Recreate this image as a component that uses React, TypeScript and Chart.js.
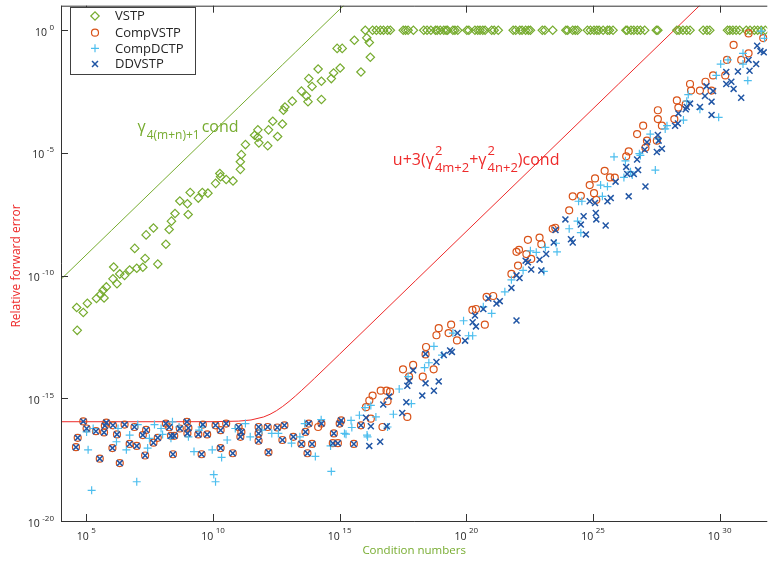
import React, { useEffect, useRef } from 'react';
import { Chart, registerables } from 'chart.js';

Chart.register(...registerables);

// ---------- data (log10 of condition number, log10 of relative forward error) ----------
const X_TICK_EXP = [5, 10, 15, 20, 25, 30];
const Y_TICK_EXP = [0, -5, -10, -15, -20];
const X_MIN_EXP = 4;
const X_MAX_EXP = 31.88;
const Y_MIN_EXP = -20;
const Y_MAX_EXP = 1;

const U = 2 ** -53; // unit roundoff
const GAMMA1_COEF_EXP = -14.15; // gamma_{4(m+n)+1}
const GAMMA2_COEF_EXP = -28.2; // 3(gamma^2_{4m+2}+gamma^2_{4n+2})
const BOUND_COND_EXP = [4, 6, 8, 10, 11, 11.5, 12, 12.25, 12.5, 12.75, 13, 13.25, 13.5, 13.75, 14, 14.5, 15, 16, 18, 22, 26, 30, 32];

const VSTP_LOG: [number, number][] = [
  [4.62, -11.3], [4.64, -12.23], [4.88, -11.5], [5.04, -11.13], [5.4, -10.93], [5.56, -10.77], [5.7, -10.91],
  [5.66, -10.6], [5.79, -10.46], [6.05, -10.13], [6.08, -9.65], [6.21, -10.33], [6.32, -9.93], [6.51, -9.99],
  [6.71, -9.77], [6.91, -8.89], [6.99, -9.7], [7.23, -9.66], [7.32, -9.3], [7.36, -8.34], [7.65, -8.06],
  [7.82, -9.53], [8.14, -8.72], [8.27, -8.12], [8.36, -7.78], [8.5, -7.47], [8.69, -6.96], [8.99, -7.07],
  [9.02, -7.51], [9.1, -6.61], [9.42, -6.84], [9.58, -6.61], [9.8, -6.64], [10.1, -6.24], [10.27, -5.84],
  [10.3, -5.97], [10.52, -6.08], [10.79, -6.14], [11.08, -5.36], [11.08, -5.67], [11.12, -5.07], [11.28, -4.66],
  [11.64, -4.28], [11.77, -4.06], [11.77, -4.36], [11.81, -4.59], [12.16, -4.71], [12.19, -4.06], [12.36, -3.71],
  [12.55, -4.33], [12.74, -3.82], [12.78, -3.26], [12.84, -3.13], [13.13, -2.89], [13.49, -2.48],
  [13.69, -2.68], [13.75, -2.91], [13.78, -1.97], [13.91, -2.29], [14.15, -1.58], [14.28, -2.08], [14.28, -2.82],
  [14.67, -1.97], [14.76, -1.74], [15.02, -1.54], [14.9, -0.74], [15.1, -0.74], [15.58, -0.41], [15.84, -1.7],
  [16.07, -0.31], [16.17, -0.5], [16.21, -1.1],
  [16.01, 0], [16.3, 0], [16.45, 0], [16.61, 0], [16.73, 0], [16.89, 0], [17.0, 0], [17.51, 0], [17.6, 0], [17.7, 0],
  [17.91, 0], [18.32, 0], [18.45, 0], [18.6, 0], [18.78, 0], [18.85, 0], [18.97, 0], [19.11, 0], [19.2, 0],
  [19.26, 0], [19.47, 0], [19.55, 0], [19.66, 0], [20.02, 0], [20.1, 0], [20.34, 0], [20.45, 0], [20.54, 0],
  [20.65, 0], [20.74, 0], [21.0, 0], [21.1, 0], [21.26, 0], [21.85, 0], [21.95, 0], [22.11, 0], [22.2, 0],
  [22.34, 0], [22.45, 0], [22.53, 0], [23.0, 0], [23.1, 0], [23.41, 0], [23.93, 0], [24.0, 0], [24.2, 0],
  [24.3, 0], [24.39, 0], [24.78, 0], [24.9, 0], [25.04, 0], [25.15, 0], [25.24, 0], [25.4, 0], [25.57, 0],
  [25.65, 0], [25.79, 0], [26.3, 0], [26.35, 0], [26.5, 0], [26.61, 0], [26.75, 0], [26.87, 0], [27.04, 0],
  [27.5, 0], [27.56, 0], [28.31, 0], [28.4, 0], [28.55, 0], [28.7, 0], [28.83, 0], [29.35, 0], [29.5, 0],
  [29.61, 0], [30.31, 0], [30.4, 0], [30.52, 0], [30.65, 0], [30.79, 0], [31.05, 0], [31.2, 0], [31.37, 0],
  [31.5, 0], [31.64, 0], [31.8, 0],
];

// low-condition region where CompVSTP and DDVSTP give identical errors
const SHARED_LOW_LOG: [number, number][] = [
  [4.88, -15.94], [5.01, -16.23], [4.66, -16.61], [4.59, -16.99], [5.38, -16.34], [5.73, -16.12], [5.7, -16.39],
  [5.79, -15.99], [5.53, -17.46], [6.05, -16.1], [6.21, -16.47], [6.03, -17.03], [6.32, -17.64], [6.51, -16.07],
  [6.71, -16.86], [6.9, -16.17], [6.99, -16.94], [7.23, -16.5], [7.36, -16.29], [7.32, -17.33], [7.65, -16.81],
  [7.82, -16.61], [8.14, -16.03], [8.27, -16.18], [8.34, -16.53], [8.47, -16.53], [8.42, -17.28], [8.69, -16.23],
  [8.97, -15.96], [9.03, -16.21], [8.99, -16.43], [9.42, -16.47], [9.6, -16.07], [9.77, -16.47], [9.55, -17.28],
  [10.1, -16.1], [10.3, -16.3], [10.3, -17.03], [10.52, -16.03], [10.78, -17.24], [11.01, -16.17], [11.08, -16.57],
  [11.12, -16.37], [11.8, -16.17], [11.8, -16.43], [11.8, -16.73], [12.16, -16.17], [12.19, -17.2], [12.54, -16.19],
  [12.74, -16.7], [12.82, -16.1], [13.17, -16.57], [13.49, -16.86], [13.65, -16.37], [13.73, -17.24],
  [13.78, -16.03], [13.91, -16.86], [14.28, -16.03], [14.77, -16.43], [14.73, -16.83], [14.93, -16.83],
  [15.06, -15.9], [15.0, -16.03], [15.56, -16.86], [15.84, -16.1],
];

const COMPVSTP_LOG: [number, number][] = [
  [14.15, -16.17], [16.3, -14.89], [16.69, -16.17], [16.23, -15.83], [16.04, -15.36], [16.17, -15.09],
  [16.62, -14.69], [16.85, -14.69], [16.99, -14.73], [16.89, -15.12], [17.67, -15.76], [17.5, -13.82],
  [17.9, -13.64], [17.74, -14.12], [18.28, -14.12], [18.71, -13.82], [18.39, -13.21], [18.41, -12.91],
  [18.82, -12.43], [18.91, -12.14], [19.3, -12.34], [19.4, -12.0], [19.63, -12.64], [20.24, -11.4],
  [20.38, -11.36], [20.73, -12.0], [20.8, -10.87], [21.06, -10.83], [21.78, -9.93], [21.98, -9.03],
  [22.08, -8.95], [22.04, -9.59], [22.37, -9.12], [22.43, -8.54], [22.56, -9.32], [22.89, -8.45], [22.96, -8.72],
  [23.41, -8.09], [23.51, -8.05], [24.06, -7.34], [24.2, -6.77], [24.52, -6.75], [24.87, -6.31], [25.04, -6.64],
  [25.08, -6.04], [25.13, -6.91], [25.46, -5.73], [25.67, -6.0], [25.86, -6.01], [26.31, -5.14], [26.41, -4.94],
  [26.74, -4.23], [26.98, -3.89], [27.07, -4.79], [27.13, -4.5], [27.52, -4.5], [27.56, -3.62], [27.56, -3.26],
  [27.72, -3.89], [28.21, -3.62], [28.31, -2.86], [28.37, -3.15], [28.66, -3.02], [28.83, -2.19], [28.87, -2.46],
  [29.22, -2.46], [29.44, -2.1], [29.68, -2.46], [29.74, -1.84], [30.22, -1.84], [30.29, -1.21], [30.85, -1.21],
  [31.14, -0.94], [30.55, -0.6], [31.14, -0.13], [31.72, -0.32],
];

const DDVSTP_LOG: [number, number][] = [
  [16.17, -16.94], [16.6, -16.77], [16.04, -15.79], [16.23, -16.14], [16.86, -16.14], [16.72, -15.25],
  [16.95, -14.93], [17.47, -15.6], [17.63, -15.16], [18.26, -14.89], [18.72, -14.69], [18.91, -14.31],
  [18.39, -14.39], [17.67, -14.49], [17.74, -14.29], [17.9, -13.86], [18.39, -13.19], [18.82, -13.52],
  [19.11, -13.24], [19.36, -13.05], [19.43, -13.11], [19.95, -12.65], [19.65, -12.34], [20.25, -11.9],
  [20.34, -11.63], [20.38, -12.07], [20.67, -11.36], [20.87, -10.93], [21.19, -11.14], [21.32, -11.04],
  [21.98, -11.83], [21.78, -10.5], [21.98, -9.99], [22.1, -10.1], [22.34, -9.39], [22.43, -9.46], [22.56, -9.75],
  [22.89, -9.35], [22.96, -9.79], [23.15, -9.12], [23.45, -8.65], [23.52, -8.14], [23.91, -7.71], [24.13, -8.52],
  [24.2, -8.65], [24.52, -7.92], [24.63, -7.58], [24.72, -8.32], [24.87, -6.97], [25.08, -7.04], [25.11, -7.45],
  [25.13, -7.71], [25.5, -7.96], [25.57, -6.97], [25.7, -6.84], [25.89, -6.17], [26.41, -6.77], [26.31, -5.57],
  [26.61, -5.86], [26.74, -5.27], [26.35, -5.86], [26.78, -5.7], [27.07, -6.37], [27.04, -4.87], [27.13, -4.56],
  [27.56, -4.27], [27.52, -4.96], [27.72, -4.83], [27.59, -4.5], [28.24, -3.89], [28.35, -3.8], [28.37, -3.39],
  [28.7, -3.13], [28.83, -2.99], [28.66, -3.22], [29.22, -3.13], [29.42, -2.68], [29.48, -2.28], [29.68, -2.91],
  [29.68, -3.45], [29.74, -2.48], [30.26, -1.7], [30.26, -2.19], [30.46, -2.1], [30.55, -2.39], [30.72, -1.68],
  [30.85, -2.75], [31.14, -1.21], [31.18, -1.65], [31.44, -1.38], [31.48, -0.63], [31.61, -0.85], [31.74, -0.9],
];

const COMPDCTP_LOG: [number, number][] = [
  [5.07, -17.1], [5.21, -18.75], [5.01, -16.37], [5.27, -16.23], [6.25, -16.23], [6.19, -16.77], [6.58, -17.1],
  [6.71, -16.5], [7.03, -16.07], [6.99, -18.4], [7.42, -17.03], [7.49, -16.63], [7.69, -16.07], [7.95, -16.23],
  [8.01, -16.47], [8.4, -15.96], [8.34, -16.63], [8.66, -16.17], [9.03, -16.57], [9.25, -17.17], [9.45, -16.3],
  [9.55, -16.17], [9.97, -17.1], [10.03, -18.11], [10.1, -18.4], [10.34, -17.41], [10.56, -16.7], [10.88, -16.23],
  [11.28, -16.03], [11.47, -16.57], [11.93, -16.3], [12.32, -16.43], [12.58, -16.43], [13.1, -16.83],
  [13.43, -16.57], [13.62, -16.03], [14.27, -15.87], [14.04, -17.37], [14.67, -17.98], [14.64, -16.94],
  [15.19, -16.43], [15.45, -15.9], [15.78, -15.69], [16.1, -16.57], [16.43, -15.76], [16.23, -15.29],
  [15.25, -16.46], [15.48, -16.19], [16.08, -16.5], [16.89, -16.17], [17.12, -15.65], [17.35, -14.62],
  [17.7, -14.12], [17.83, -15.22], [18.35, -13.75], [18.52, -13.55], [18.72, -12.88], [19.04, -13.24],
  [19.47, -12.34], [19.89, -11.84], [20.09, -12.45], [20.25, -12.45], [20.67, -11.27], [21.0, -11.54],
  [21.52, -10.66], [16.0, -15.38], [21.78, -10.17], [22.24, -9.79], [22.53, -8.99], [22.76, -9.05], [23.06, -9.83],
  [23.12, -8.85], [23.54, -8.68], [23.58, -9.03], [24.06, -8.09], [24.39, -7.78], [24.52, -8.25], [24.43, -6.97],
  [24.56, -6.97], [25.3, -6.31], [25.57, -6.37], [25.37, -6.77], [26.22, -6.0], [26.48, -5.77], [25.83, -5.16],
  [26.87, -5.1], [26.28, -5.32], [26.55, -5.9], [26.83, -5.03], [27.26, -4.23], [27.46, -5.7], [27.56, -4.43],
  [27.85, -4.02], [27.92, -3.89], [28.57, -3.66], [28.7, -2.89], [28.76, -2.62], [29.22, -3.22], [29.96, -3.55],
  [29.87, -1.84], [30.04, -1.38], [30.33, -1.21], [30.92, -0.94], [30.92, -1.38], [31.11, -2.05], [31.64, -0.04],
  [31.77, -0.33],
];

// annotation anchors (log10 cond, log10 error of text baseline-left)
const GREEN_LABEL_AT: [number, number] = [7.02, -4.15];
const RED_LABEL_AT: [number, number] = [17.1, -5.48];

// ---------- styles ----------
const GREEN = '#77AC30';
const ORANGE = '#D95319';
const CYAN = '#4DBEEE';
const BLUE = '#2156A5';
const RED = '#EE2A2A';
const AXIS = '#333333';
const FONT = "'Open Sans', 'DejaVu Sans', sans-serif";
const f = (s: number) => `${s}px ${FONT}`;

const toPts = (arr: [number, number][]) => arr.map(([cx, ey]) => ({ x: 10 ** cx, y: 10 ** ey }));

type Part = { t: string; size: number; dy?: number; sup?: string; supDy?: number; sub?: string; gap?: number };

function drawRich(ctx: CanvasRenderingContext2D, x: number, y: number, parts: Part[], color: string) {
  ctx.fillStyle = color;
  ctx.textAlign = 'left';
  ctx.textBaseline = 'alphabetic';
  let cx = x;
  for (const p of parts) {
    cx += p.gap || 0;
    if (p.sup !== undefined || p.sub !== undefined) {
      ctx.font = f(p.size);
      let w = 0;
      if (p.sup) {
        ctx.fillText(p.sup, cx, y + (p.supDy ?? -10));
        w = Math.max(w, ctx.measureText(p.sup).width);
      }
      if (p.sub) {
        ctx.fillText(p.sub, cx, y + (p.dy ?? 5));
        w = Math.max(w, ctx.measureText(p.sub).width);
      }
      cx += w;
    } else {
      ctx.font = f(p.size);
      ctx.fillText(p.t, cx, y + (p.dy || 0));
      cx += ctx.measureText(p.t).width;
    }
  }
}

function drawMarker(ctx: CanvasRenderingContext2D, style: string, x: number, y: number, r: number, color: string, lw: number) {
  ctx.save();
  ctx.strokeStyle = color;
  ctx.lineWidth = lw;
  ctx.beginPath();
  if (style === 'rectRot') {
    ctx.moveTo(x - r, y); ctx.lineTo(x, y - r); ctx.lineTo(x + r, y); ctx.lineTo(x, y + r); ctx.closePath();
  } else if (style === 'circle') {
    ctx.arc(x, y, r, 0, Math.PI * 2);
  } else if (style === 'cross') {
    ctx.moveTo(x - r, y); ctx.lineTo(x + r, y); ctx.moveTo(x, y - r); ctx.lineTo(x, y + r);
  } else {
    const d = r * Math.SQRT1_2;
    ctx.moveTo(x - d, y - d); ctx.lineTo(x + d, y + d); ctx.moveTo(x - d, y + d); ctx.lineTo(x + d, y - d);
  }
  ctx.stroke();
  ctx.restore();
}

const matlabAxes = {
  id: 'matlabAxes',
  afterDatasetsDraw(chart: any) {
    const { ctx, chartArea: a } = chart;
    const xs = chart.scales.x;
    const ys = chart.scales.y;
    ctx.save();

    // annotations
    const gx = xs.getPixelForValue(10 ** GREEN_LABEL_AT[0]);
    const gy = ys.getPixelForValue(10 ** GREEN_LABEL_AT[1]);
    drawRich(ctx, gx, gy, [
      { t: 'γ', size: 16 },
      { t: '', size: 12, sub: '4(m+n)+1', dy: 7, gap: 1 },
      { t: 'cond', size: 16, gap: 2 },
    ], GREEN);
    const rx = xs.getPixelForValue(10 ** RED_LABEL_AT[0]);
    const ry = ys.getPixelForValue(10 ** RED_LABEL_AT[1]);
    drawRich(ctx, rx, ry, [
      { t: 'u+3(γ', size: 16 },
      { t: '', size: 13, sup: '2', supDy: -10, sub: '4m+2', dy: 7, gap: 1 },
      { t: '+γ', size: 16 },
      { t: '', size: 13, sup: '2', supDy: -10, sub: '4n+2', dy: 7, gap: 1 },
      { t: ')cond', size: 16 },
    ], RED);

    // axes box (left, bottom, top)
    ctx.strokeStyle = AXIS;
    ctx.lineWidth = 1;
    ctx.beginPath();
    ctx.moveTo(a.left + 0.5, a.top); ctx.lineTo(a.left + 0.5, a.bottom + 1);
    ctx.moveTo(a.left, a.bottom + 0.5); ctx.lineTo(a.right, a.bottom + 0.5);
    ctx.moveTo(a.left, a.top + 0.5); ctx.lineTo(a.right, a.top + 0.5);
    for (const e of X_TICK_EXP) {
      const px = Math.round(xs.getPixelForValue(10 ** e)) + 0.5;
      ctx.moveTo(px, a.bottom); ctx.lineTo(px, a.bottom - 7);
      ctx.moveTo(px, a.top); ctx.lineTo(px, a.top + 7);
    }
    for (const e of Y_TICK_EXP) {
      const py = Math.round(ys.getPixelForValue(10 ** e)) + 0.5;
      ctx.moveTo(a.left, py); ctx.lineTo(a.left + 7, py);
    }
    ctx.stroke();

    // tick labels
    ctx.fillStyle = '#262626';
    ctx.textAlign = 'left';
    ctx.textBaseline = 'alphabetic';
    const baseSize = 10.5;
    const expSize = 8;
    for (const e of X_TICK_EXP) {
      const px = xs.getPixelForValue(10 ** e);
      ctx.font = f(baseSize);
      const w1 = ctx.measureText('10').width;
      ctx.font = f(expSize);
      const w2 = ctx.measureText(String(e)).width;
      const gap = 2.5;
      const x0 = px - (w1 + gap + w2) / 2;
      ctx.font = f(baseSize);
      ctx.fillText('10', x0, a.bottom + 19);
      ctx.font = f(expSize);
      ctx.fillText(String(e), x0 + w1 + gap, a.bottom + 12);
    }
    for (const e of Y_TICK_EXP) {
      const py = ys.getPixelForValue(10 ** e);
      ctx.font = f(baseSize);
      const w1 = ctx.measureText('10').width;
      ctx.font = f(expSize);
      const w2 = ctx.measureText(String(e)).width;
      const gap = 2.5;
      const x0 = a.left - 7 - (w1 + gap + w2);
      ctx.font = f(baseSize);
      ctx.fillText('10', x0, py + 5.5);
      ctx.font = f(expSize);
      ctx.fillText(String(e), x0 + w1 + gap, py - 0.5);
    }

    // axis titles
    ctx.textAlign = 'center';
    ctx.textBaseline = 'middle';
    ctx.font = f(11.5);
    ctx.fillStyle = GREEN;
    ctx.fillText('Condition numbers', (a.left + a.right) / 2, 551);
    ctx.save();
    ctx.translate(17, 266);
    ctx.rotate(-Math.PI / 2);
    ctx.font = f(12);
    ctx.fillStyle = RED;
    ctx.fillText('Relative forward error', 0, 0);
    ctx.restore();

    // legend
    const lx = 70.5, ly = 7.5, lw = 125, lh = 67;
    ctx.fillStyle = '#ffffff';
    ctx.fillRect(lx, ly, lw, lh);
    ctx.strokeStyle = '#404040';
    ctx.lineWidth = 1;
    ctx.strokeRect(lx, ly, lw, lh);
    const rows = [16, 32.7, 48.3, 64];
    const sets = chart.data.datasets.filter((d: any) => d.inLegend);
    ctx.font = f(13);
    ctx.textAlign = 'left';
    ctx.textBaseline = 'middle';
    sets.forEach((d: any, i: number) => {
      drawMarker(ctx, d.pointStyle, 95, rows[i], d.pointRadius, d.pointBorderColor, d.pointBorderWidth);
      ctx.fillStyle = '#262626';
      ctx.fillText(d.label, 115, rows[i] + 0.5);
    });

    ctx.restore();
  },
};

export default function App() {
  const ref = useRef<HTMLCanvasElement | null>(null);

  useEffect(() => {
    document.body.style.margin = '0';
    document.body.style.overflow = 'hidden';
    const canvas = ref.current;
    if (!canvas) return;

    const bound1 = BOUND_COND_EXP.map((e) => ({ x: 10 ** e, y: 10 ** (GAMMA1_COEF_EXP + e) }));
    const bound2 = BOUND_COND_EXP.map((e) => ({ x: 10 ** e, y: U + 10 ** (GAMMA2_COEF_EXP + e) }));

    const chart = new Chart(canvas, {
      type: 'scatter',
      data: {
        datasets: [
          {
            label: 'VSTP', inLegend: true, order: 3,
            data: toPts(VSTP_LOG),
            pointStyle: 'rectRot', pointRadius: 4.2, pointBorderColor: GREEN, pointBackgroundColor: 'rgba(0,0,0,0)', pointBorderWidth: 1.2,
            borderColor: GREEN, backgroundColor: 'rgba(0,0,0,0)',
          },
          {
            label: 'CompVSTP', inLegend: true, order: 2,
            data: toPts([...SHARED_LOW_LOG, ...COMPVSTP_LOG]),
            pointStyle: 'circle', pointRadius: 3.5, pointBorderColor: ORANGE, pointBackgroundColor: 'rgba(0,0,0,0)', pointBorderWidth: 1.2,
            borderColor: ORANGE, backgroundColor: 'rgba(0,0,0,0)',
          },
          {
            label: 'CompDCTP', inLegend: true, order: 1,
            data: toPts(COMPDCTP_LOG),
            pointStyle: 'cross', pointRadius: 4, pointBorderColor: CYAN, pointBackgroundColor: 'rgba(0,0,0,0)', pointBorderWidth: 1.2,
            borderColor: CYAN, backgroundColor: 'rgba(0,0,0,0)',
          },
          {
            label: 'DDVSTP', inLegend: true, order: 0,
            data: toPts([...SHARED_LOW_LOG, ...DDVSTP_LOG]),
            pointStyle: 'crossRot', pointRadius: 4.2, pointBorderColor: BLUE, pointBackgroundColor: 'rgba(0,0,0,0)', pointBorderWidth: 1.5,
            borderColor: BLUE, backgroundColor: 'rgba(0,0,0,0)',
          },
          {
            label: 'gamma bound', order: 5,
            data: bound1, showLine: true, pointRadius: 0, borderColor: GREEN, borderWidth: 1, fill: false,
          },
          {
            label: 'comp bound', order: 4,
            data: bound2, showLine: true, pointRadius: 0, borderColor: RED, borderWidth: 1, fill: false,
          },
        ] as any,
      },
      options: {
        responsive: false,
        animation: false,
        events: [],
        layout: { padding: { left: 61, top: 1, right: 0, bottom: 44 } },
        scales: {
          x: { type: 'logarithmic', display: false, min: 10 ** X_MIN_EXP, max: 10 ** X_MAX_EXP },
          y: { type: 'logarithmic', display: false, min: 10 ** Y_MIN_EXP, max: 10 ** Y_MAX_EXP },
        },
        plugins: { legend: { display: false }, tooltip: { enabled: false } },
      },
      plugins: [matlabAxes],
    });
    return () => chart.destroy();
  }, []);

  return <canvas ref={ref} width={773} height={565} style={{ display: 'block' }} />;
}
